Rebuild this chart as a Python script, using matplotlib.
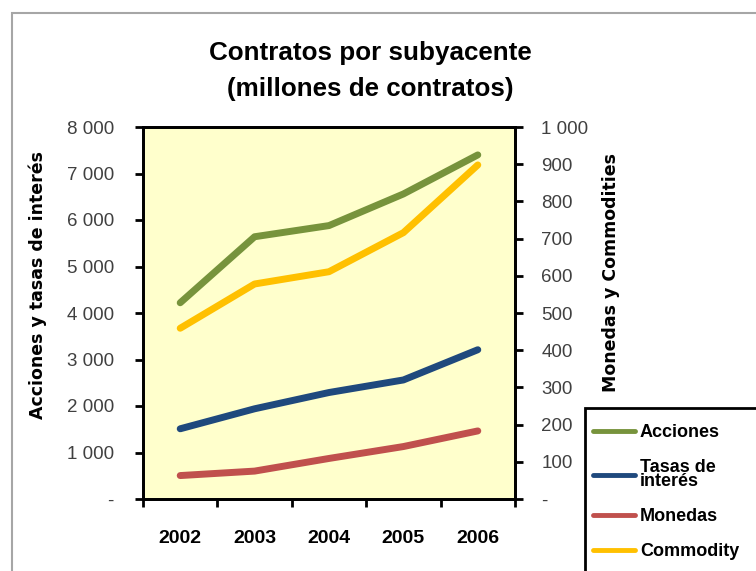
import matplotlib
matplotlib.use('Agg')
import matplotlib.pyplot as plt
import matplotlib.ticker as mticker
from matplotlib.patches import Rectangle
import numpy as np

years = ['2002', '2003', '2004', '2005', '2006']
acciones = [4220, 5640, 5880, 6560, 7400]
tasas = [1510, 1940, 2290, 2560, 3210]
monedas = [63, 75, 109, 141, 183]
commodity = [459, 578, 611, 716, 898]

green = '#77933C'
blue = '#1F497D'
red = '#C0504D'
yellow = '#FFC000'

plt.rcParams['font.family'] = 'Liberation Sans'

fig = plt.figure(figsize=(7.56, 5.71), dpi=100)
W, H = 756, 571

# outer chart border (right and bottom edges fall outside the image)
fig.patches.append(Rectangle((12 / W, -0.2), 1.2, 1.2 - 13 / H, transform=fig.transFigure,
                             fill=False, edgecolor='#A6A6A6', linewidth=1.5))

ax = fig.add_axes([143 / W, 1 - 499 / H, (515 - 143) / W, (499 - 127) / H])
ax.set_facecolor('#FFFFCC')
ax2 = ax.twinx()

x = np.arange(1, len(years) + 1)
lw = 5
l1, = ax.plot(x, acciones, color=green, lw=lw, solid_capstyle='round')
l2, = ax.plot(x, tasas, color=blue, lw=lw, solid_capstyle='round')
l3, = ax2.plot(x, monedas, color=red, lw=lw, solid_capstyle='round')
l4, = ax2.plot(x, commodity, color=yellow, lw=lw, solid_capstyle='round')
ax.set_zorder(ax2.get_zorder() - 1)
ax2.patch.set_visible(False)

ax.set_xlim(0.5, 5.5)
ax.set_ylim(0, 8000)
ax2.set_ylim(0, 1000)


def fmt(v, pos):
    if v == 0:
        return '-'
    return f'{int(v):,}'.replace(',', ' ')


ax.yaxis.set_major_locator(mticker.MultipleLocator(1000))
ax2.yaxis.set_major_locator(mticker.MultipleLocator(100))
ax.yaxis.set_major_formatter(mticker.FuncFormatter(fmt))
ax2.yaxis.set_major_formatter(mticker.FuncFormatter(fmt))

ax.set_xticks(np.arange(0.5, 6, 1))
ax.set_xticklabels([])
ax.set_xticks(x, minor=True)
ax.set_xticklabels(years, minor=True, fontsize=14, fontweight='bold')
ax.tick_params(axis='x', which='minor', length=0, pad=22)
ax.tick_params(axis='x', which='major', direction='out', length=6, width=2)
ax.tick_params(axis='y', direction='out', length=6, width=2, labelsize=13.5,
               labelcolor='#404040', pad=15)
ax2.tick_params(axis='y', direction='out', length=6, width=2, labelsize=13.5,
                labelcolor='#404040', pad=13)

for a in (ax, ax2):
    for s in a.spines.values():
        s.set_linewidth(2)
        s.set_color('black')

fig.text(38 / W, 1 - 285 / H, 'Acciones y tasas de interés', rotation=90,
         ha='center', va='center', family='DejaVu Sans', fontweight='bold', fontsize=12.5)
fig.text(611 / W, 1 - 272 / H, 'Monedas y Commodities', rotation=90,
         ha='center', va='center', family='DejaVu Sans', fontweight='bold', fontsize=12.5)

fig.text(370 / W, 1 - 53 / H, 'Contratos por subyacente', ha='center', va='center',
         fontsize=18.7, fontweight='bold')
fig.text(370 / W, 1 - 89 / H, '(millones de contratos)', ha='center', va='center',
         fontsize=18.7, fontweight='bold')

# legend box, runs off the bottom-right of the image
fig.patches.append(Rectangle((585 / W, -0.2), 0.5, 0.2 + 1 - 408 / H, transform=fig.transFigure,
                             facecolor='white', edgecolor='black', linewidth=2, zorder=5))
leg = fig.legend([l1, l2, l3, l4], ['Acciones', 'Tasas de\ninterés', 'Monedas', 'Commodity'],
                 loc='upper left', bbox_to_anchor=(593 / W, 1 - 424 / H), borderaxespad=0,
                 prop={'weight': 'bold', 'size': 13}, handlelength=2.3, handletextpad=0.3,
                 labelspacing=1.0, borderpad=0, frameon=False)
leg.set_zorder(6)
for h in leg.get_lines():
    h.set_linewidth(3.5)
leg.get_texts()[1].set_linespacing(0.75)

fig.savefig('out.png', dpi=100)
